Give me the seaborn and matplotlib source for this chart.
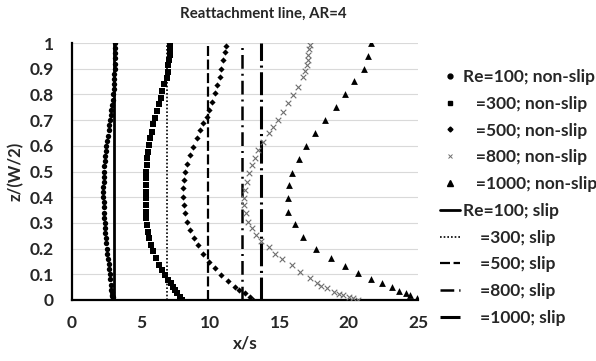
import matplotlib
matplotlib.use("Agg")
import matplotlib.pyplot as plt
from matplotlib.lines import Line2D
import pandas as pd
import seaborn as sns

sns.set_theme(style="white")
plt.rcParams["font.family"] = ["Lato", "DejaVu Sans"]
plt.rcParams["font.weight"] = "bold"

# ---- non-slip profiles: reattachment position x/s versus z/(W/2) ----
z_re100 = [0.000, 0.005, 0.010, 0.015, 0.020, 0.030, 0.040, 0.060, 0.080, 0.100,
           0.120, 0.140, 0.160, 0.180, 0.200, 0.220, 0.240, 0.260, 0.280, 0.300,
           0.320, 0.340, 0.360, 0.380, 0.400, 0.420, 0.440, 0.460, 0.480, 0.500,
           0.520, 0.540, 0.560, 0.580, 0.600, 0.620, 0.640, 0.660, 0.680, 0.700,
           0.720, 0.740, 0.760, 0.780, 0.800, 0.820, 0.840, 0.860, 0.880, 0.900,
           0.920, 0.940, 0.960, 0.980, 1.000]
x_re100 = [2.97, 2.95, 2.93, 2.91, 2.89, 2.86, 2.84, 2.80, 2.76, 2.72,
           2.68, 2.64, 2.60, 2.56, 2.52, 2.48, 2.44, 2.41, 2.38, 2.35,
           2.32, 2.30, 2.29, 2.28, 2.27, 2.27, 2.27, 2.28, 2.29, 2.31,
           2.33, 2.36, 2.40, 2.44, 2.49, 2.54, 2.59, 2.65, 2.70, 2.75,
           2.80, 2.85, 2.90, 2.95, 2.99, 3.02, 3.04, 3.06, 3.07, 3.08,
           3.09, 3.10, 3.10, 3.11, 3.11]

z_re300 = [0.000, 0.013, 0.026, 0.039, 0.052, 0.065, 0.078, 0.098, 0.117, 0.137,
           0.163, 0.189, 0.214, 0.240, 0.266, 0.292, 0.318, 0.344, 0.370, 0.396,
           0.422, 0.448, 0.474, 0.500, 0.525, 0.551, 0.577, 0.603, 0.629, 0.655,
           0.684, 0.710, 0.735, 0.761, 0.787, 0.813, 0.839, 0.865, 0.888, 0.914,
           0.934, 0.953, 0.973, 0.992]
x_re300 = [7.95, 7.80, 7.62, 7.45, 7.30, 7.12, 6.95, 6.74, 6.50, 6.26,
           6.07, 5.88, 5.71, 5.56, 5.47, 5.39, 5.35, 5.32, 5.32, 5.32,
           5.32, 5.32, 5.32, 5.35, 5.39, 5.44, 5.52, 5.56, 5.64, 5.76,
           5.88, 6.00, 6.12, 6.29, 6.41, 6.53, 6.67, 6.84, 6.91, 6.96,
           7.03, 7.08, 7.08, 7.08]

z_re500 = [0.000, 0.013, 0.026, 0.039, 0.052, 0.075, 0.097, 0.123, 0.149, 0.180,
           0.214, 0.240, 0.272, 0.305, 0.337, 0.370, 0.400, 0.435, 0.467, 0.500,
           0.530, 0.564, 0.597, 0.630, 0.660, 0.687, 0.713, 0.740, 0.770, 0.804,
           0.837, 0.869, 0.900, 0.934, 0.966, 0.990]
x_re500 = [13.10, 12.85, 12.50, 12.10, 11.80, 11.30, 10.80, 10.30, 9.90, 9.50,
           9.10, 8.80, 8.53, 8.33, 8.16, 8.09, 8.04, 8.04, 8.09, 8.16,
           8.33, 8.53, 8.77, 9.00, 9.25, 9.50, 9.73, 9.90, 10.10, 10.30,
           10.50, 10.70, 10.80, 10.90, 11.05, 11.10]

z_re800 = [0.000, 0.006, 0.012, 0.018, 0.025, 0.032, 0.045, 0.055, 0.065, 0.084,
           0.110, 0.136, 0.160, 0.180, 0.207, 0.230, 0.253, 0.279, 0.305, 0.337,
           0.370, 0.396, 0.428, 0.460, 0.493, 0.525, 0.551, 0.584, 0.616, 0.649,
           0.674, 0.700, 0.733, 0.765, 0.798, 0.830, 0.869, 0.892, 0.914, 0.934,
           0.953, 0.975, 0.992]
x_re800 = [20.70, 20.30, 20.00, 19.60, 19.30, 18.90, 18.40, 18.00, 17.70, 17.20,
           16.50, 15.87, 15.20, 14.67, 14.20, 13.63, 13.30, 12.98, 12.74, 12.55,
           12.45, 12.45, 12.50, 12.62, 12.79, 12.98, 13.20, 13.46, 13.80, 14.20,
           14.55, 14.90, 15.27, 15.60, 16.00, 16.35, 16.70, 16.85, 16.96, 17.03,
           17.08, 17.15, 17.20]

z_re1000 = [0.008, 0.019, 0.028, 0.036, 0.049, 0.065, 0.083, 0.106, 0.132, 0.162,
            0.198, 0.246, 0.294, 0.344, 0.396, 0.446, 0.495, 0.547, 0.600, 0.650,
            0.700, 0.750, 0.800, 0.853, 0.900, 0.950, 1.000]
x_re1000 = [24.90, 24.40, 24.10, 23.65, 23.10, 22.40, 21.60, 20.70, 19.70, 18.70,
            17.60, 16.70, 16.10, 15.60, 15.60, 15.70, 15.90, 16.40, 16.90, 17.56,
            18.25, 19.10, 19.70, 20.40, 21.10, 21.40, 21.60]

# ---- slip walls: reattachment position independent of z ----
slip_x = [3.05, 6.85, 9.80, 12.25, 13.65]

nonslip_labels = ["Re=100; non-slip", "   =300; non-slip", "   =500; non-slip",
                  "   =800; non-slip", "   =1000; non-slip"]
slip_labels = ["Re=100; slip", "    =300; slip", "    =500; slip",
               "    =800; slip", "    =1000; slip"]

x_ticks = [0, 5, 10, 15, 20, 25]
y_ticks = [0, 0.1, 0.2, 0.3, 0.4, 0.5, 0.6, 0.7, 0.8, 0.9, 1]
y_ticklabels = ["0", "0.1", "0.2", "0.3", "0.4", "0.5", "0.6", "0.7", "0.8", "0.9", "1"]

FS = 12.5

fig = plt.figure(figsize=(5.96, 3.61), dpi=100)
ax = fig.add_axes([72 / 596, 1 - 300 / 361, (418 - 72) / 596, (300 - 43) / 361])

# horizontal grid
for yv in y_ticks[1:]:
    ax.axhline(yv, color="#d9d9d9", lw=0.8, zorder=0)

# slip lines
slip_styles = [
    dict(color="black", lw=2.0, ls="-"),
    dict(color="black", lw=1.2, ls=(0, (1, 1.2))),
    dict(color="black", lw=1.6, ls=(0, (4.5, 1.6))),
    dict(color="black", lw=1.8, ls=(0, (5.5, 2.0, 0.8, 2.0))),
    dict(color="black", lw=2.2, ls=(0, (7.5, 1.5, 0.7, 1.5))),
]
for xv, st in zip(slip_x, slip_styles):
    ax.vlines(xv, 0, 1, colors=st["color"], linewidths=st["lw"],
              linestyles=[st["ls"]], zorder=2)

# non-slip markers
series = [
    (x_re100, z_re100, dict(marker="o", s=15, color="black", linewidth=0)),
    (x_re300, z_re300, dict(marker="s", s=21, color="black", linewidth=0)),
    (x_re500, z_re500, dict(marker="D", s=10, color="black", linewidth=0)),
    (x_re800, z_re800, dict(marker="x", s=16, color="#6e6e6e", linewidth=0.8)),
    (x_re1000, z_re1000, dict(marker="^", s=24, color="black", linewidth=0)),
]
for xs, zs, kw in series:
    df = pd.DataFrame({"x": xs, "z": zs})
    sns.scatterplot(data=df, x="x", y="z", ax=ax, zorder=3, legend=False, **kw)

ax.set_xlim(0, 25)
ax.set_ylim(0, 1)
ax.set_xticks(x_ticks)
ax.set_xticklabels([str(t) for t in x_ticks])
ax.set_yticks(y_ticks)
ax.set_yticklabels(y_ticklabels)
ax.tick_params(axis="both", length=0, labelsize=FS)
ax.tick_params(axis="y", pad=13)
ax.tick_params(axis="x", pad=11)
for lab in ax.get_xticklabels() + ax.get_yticklabels():
    lab.set_fontweight("bold")

for side in ["top", "right"]:
    ax.spines[side].set_visible(False)
for side in ["left", "bottom"]:
    ax.spines[side].set_color("black")
    ax.spines[side].set_linewidth(1.6)

ax.set_xlabel("x/s", fontsize=FS, fontweight="bold", labelpad=3)
ax.set_ylabel("z/(W/2)", fontsize=12, fontweight="bold", labelpad=4)
fig.text(263 / 596, 1 - 14 / 361, "Reattachment line, AR=4", ha="center", va="center",
         fontsize=10.8, fontweight="bold")

# legend
handles = [
    Line2D([], [], ls="none", marker="o", ms=3.5, color="black"),
    Line2D([], [], ls="none", marker="s", ms=3.5, color="black"),
    Line2D([], [], ls="none", marker="D", ms=2.5, color="black"),
    Line2D([], [], ls="none", marker="x", ms=3.5, mew=0.7, color="#6e6e6e"),
    Line2D([], [], ls="none", marker="^", ms=3.8, color="black"),
]
for st in slip_styles:
    handles.append(Line2D([], [], color=st["color"], lw=st["lw"], ls=st["ls"]))
leg = fig.legend(handles, nonslip_labels + slip_labels, loc="upper left",
                 bbox_to_anchor=(440 / 596, 1 - 69 / 361), frameon=False,
                 fontsize=FS, handlelength=1.15, handletextpad=0.17,
                 labelspacing=0.62, borderpad=0, borderaxespad=0)
for t in leg.get_texts():
    t.set_fontweight("bold")

fig.savefig("out.png", dpi=100)
